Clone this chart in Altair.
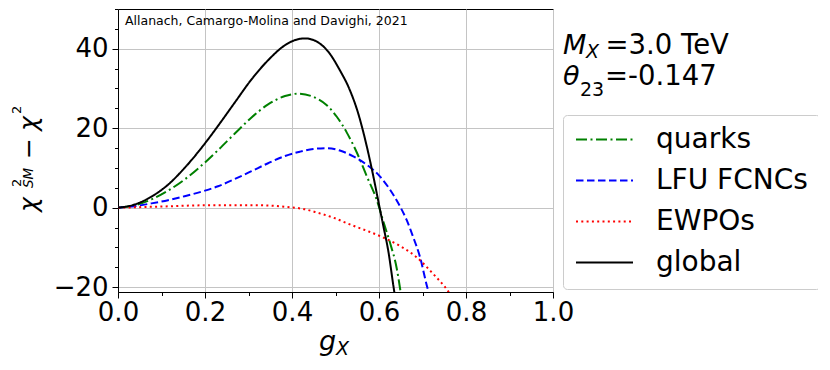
import altair as alt
import pandas as pd

# ---- data ----
series_names = ["quarks", "LFU FCNCs", "EWPOs", "global"]
series_colors = ["#008000", "#0000ff", "#ff0000", "#000000"]
series_dash = [[11, 3.5, 2, 3.5], [7.5, 3.5], [2, 3.3], [1, 0]]

quarks_x = [0, 0.038, 0.077, 0.115, 0.153, 0.2, 0.23, 0.268, 0.307, 0.345, 0.384, 0.414, 0.449, 0.48, 0.503, 0.526, 0.549, 0.572, 0.595, 0.61, 0.625, 0.641, 0.648, 0.652]
quarks_y = [0, 0.6, 2.1, 4.3, 7.1, 11.4, 14.5, 18.6, 22.7, 26.0, 28.1, 28.7, 27.9, 25.8, 22.9, 18.9, 13.9, 7.9, 1.9, -3.5, -8.7, -15.4, -20, -23]

lfu_x = [0, 0.038, 0.077, 0.115, 0.153, 0.2, 0.23, 0.268, 0.307, 0.345, 0.384, 0.418, 0.449, 0.48, 0.51, 0.541, 0.572, 0.602, 0.625, 0.648, 0.664, 0.679, 0.694, 0.71, 0.718]
lfu_y = [0, 0.4, 1.1, 1.9, 2.9, 4.3, 5.4, 7.2, 9.2, 11.2, 13.0, 14.1, 14.8, 15.0, 14.4, 12.9, 10.8, 7.9, 4.6, 0.4, -3.2, -7.5, -12.3, -19.6, -22.8]

ewpo_x = [0, 0.1, 0.19, 0.307, 0.384, 0.43, 0.457, 0.495, 0.533, 0.572, 0.61, 0.648, 0.687, 0.725, 0.752, 0.762]
ewpo_y = [0, 0.3, 0.6, 0.65, 0.25, -0.4, -1.2, -2.5, -4.2, -5.8, -7.5, -9.6, -12.5, -16.7, -20, -21.5]

global_x = [0, 0.038, 0.077, 0.115, 0.153, 0.2, 0.23, 0.268, 0.307, 0.345, 0.384, 0.405, 0.43, 0.46, 0.483, 0.51, 0.533, 0.552, 0.572, 0.587, 0.6, 0.61, 0.622, 0.633, 0.637]
global_y = [0, 0.8, 2.8, 5.8, 10.0, 16.2, 20.6, 26.4, 32.3, 37.1, 40.9, 42.1, 42.6, 41.6, 39.3, 34.6, 29.6, 23.8, 15.4, 7.9, 0.8, -4.6, -11.3, -19.6, -22.5]

x_major = [0.0, 0.2, 0.4, 0.6, 0.8, 1.0]
x_minor = [0.1, 0.3, 0.5, 0.7, 0.9]
y_major = [-20, 0, 20, 40]
y_minor = [-15, -10, -5, 5, 10, 15, 25, 30, 35, 45, 50]
x_domain = [0, 1]
y_domain = [-21.2, 50]

rows = []
for name, xs, ys in [("quarks", quarks_x, quarks_y), ("LFU FCNCs", lfu_x, lfu_y),
                     ("EWPOs", ewpo_x, ewpo_y), ("global", global_x, global_y)]:
    for xv, yv in zip(xs, ys):
        rows.append({"series": name, "gx": xv, "dchi": yv})
df = pd.DataFrame(rows)

FONT = "DejaVu Sans"

xscale = alt.Scale(domain=x_domain, nice=False, zero=False)
yscale = alt.Scale(domain=y_domain, nice=False, zero=False)

legend = alt.Legend(
    title=None, orient="none", legendX=445, legendY=106,
    symbolType="stroke", symbolSize=3249, symbolStrokeWidth=2,
    labelFontSize=28, labelFont=FONT, labelColor="black", labelOffset=22,
    padding=12, strokeColor="#cccccc", cornerRadius=4, fillColor="white",
    clipHeight=25, rowPadding=12,
)

lines = alt.Chart(df).mark_line(strokeWidth=2, clip=True, interpolate="monotone").encode(
    x=alt.X("gx:Q", scale=xscale,
            axis=alt.Axis(values=x_major, format=".1f", title=None, grid=True,
                          tickSize=6, labelPadding=1, orient="bottom",
                          labelFlush=False, labelOverlap=False)),
    y=alt.Y("dchi:Q", scale=yscale,
            axis=alt.Axis(values=y_major, format="d", title=None, grid=True,
                          tickSize=6, labelPadding=4, orient="left",
                          labelFlush=False, labelOverlap=False)),
    color=alt.Color("series:N", sort=series_names,
                    scale=alt.Scale(domain=series_names, range=series_colors), legend=legend),
    strokeDash=alt.StrokeDash("series:N", sort=series_names,
                              scale=alt.Scale(domain=series_names, range=series_dash), legend=legend),
    detail="series:N",
)

minor = alt.Chart(df).mark_point(opacity=0).encode(
    x=alt.X("gx:Q", scale=xscale,
            axis=alt.Axis(values=x_minor, labels=False, title=None, grid=False,
                          tickSize=3.5, domain=False, orient="bottom")),
    y=alt.Y("dchi:Q", scale=yscale,
            axis=alt.Axis(values=y_minor, labels=False, title=None, grid=False,
                          tickSize=3.5, domain=False, orient="left")),
)


def txt(s, x, y, size, italic=False, angle=0):
    kw = dict(text=s, align="left", baseline="alphabetic", fontSize=size,
              font=FONT, color="black")
    if italic:
        kw["fontStyle"] = "italic"
    if angle:
        kw["angle"] = angle
    return alt.Chart().mark_text(**kw).encode(x=alt.value(x), y=alt.value(y))


annotations = [
    txt("Allanach, Camargo-Molina and Davighi, 2021", 7, 16, 12.5),
    # right-hand annotations
    txt("M", 445, 45, 27, italic=True),
    txt("X", 468, 49, 19, italic=True),
    txt("=3.0 TeV", 487.5, 45, 27.5),
    txt("θ", 445, 76, 27, italic=True),
    txt("23", 462, 87, 19),
    txt("=-0.147", 487, 76, 27.5),
    # x title
    txt("g", 201, 341, 27, italic=True),
    txt("X", 218, 345.5, 19, italic=True),
    # y title (rotated)
    txt("χ", -81, 203, 25, italic=True, angle=270),
    txt("2", -97.5, 178, 13, angle=270),
    txt("SM", -85.5, 179, 13.5, italic=True, angle=270),
    txt("−", -81, 150, 25, angle=270),
    txt("χ", -81, 122, 25, italic=True, angle=270),
    txt("2", -97.5, 105, 13, angle=270),
]

chart = alt.layer(lines, minor, *annotations).resolve_axis(
    x="independent", y="independent"
).properties(
    width=435, height=283,
    padding={"left": 110, "top": 1, "right": 265, "bottom": 65},
    autosize=alt.AutoSizeParams(type="none"),
).configure(
    font=FONT,
).configure_view(
    stroke="black", strokeWidth=1,
).configure_axis(
    domainColor="black", domainWidth=1, tickColor="black", tickWidth=1,
    labelColor="black", labelFont=FONT, labelFontSize=26,
    gridColor="#c4c4c4", gridWidth=1,
)

chart.save("out.html", embed_options={"renderer": "svg", "actions": False})
